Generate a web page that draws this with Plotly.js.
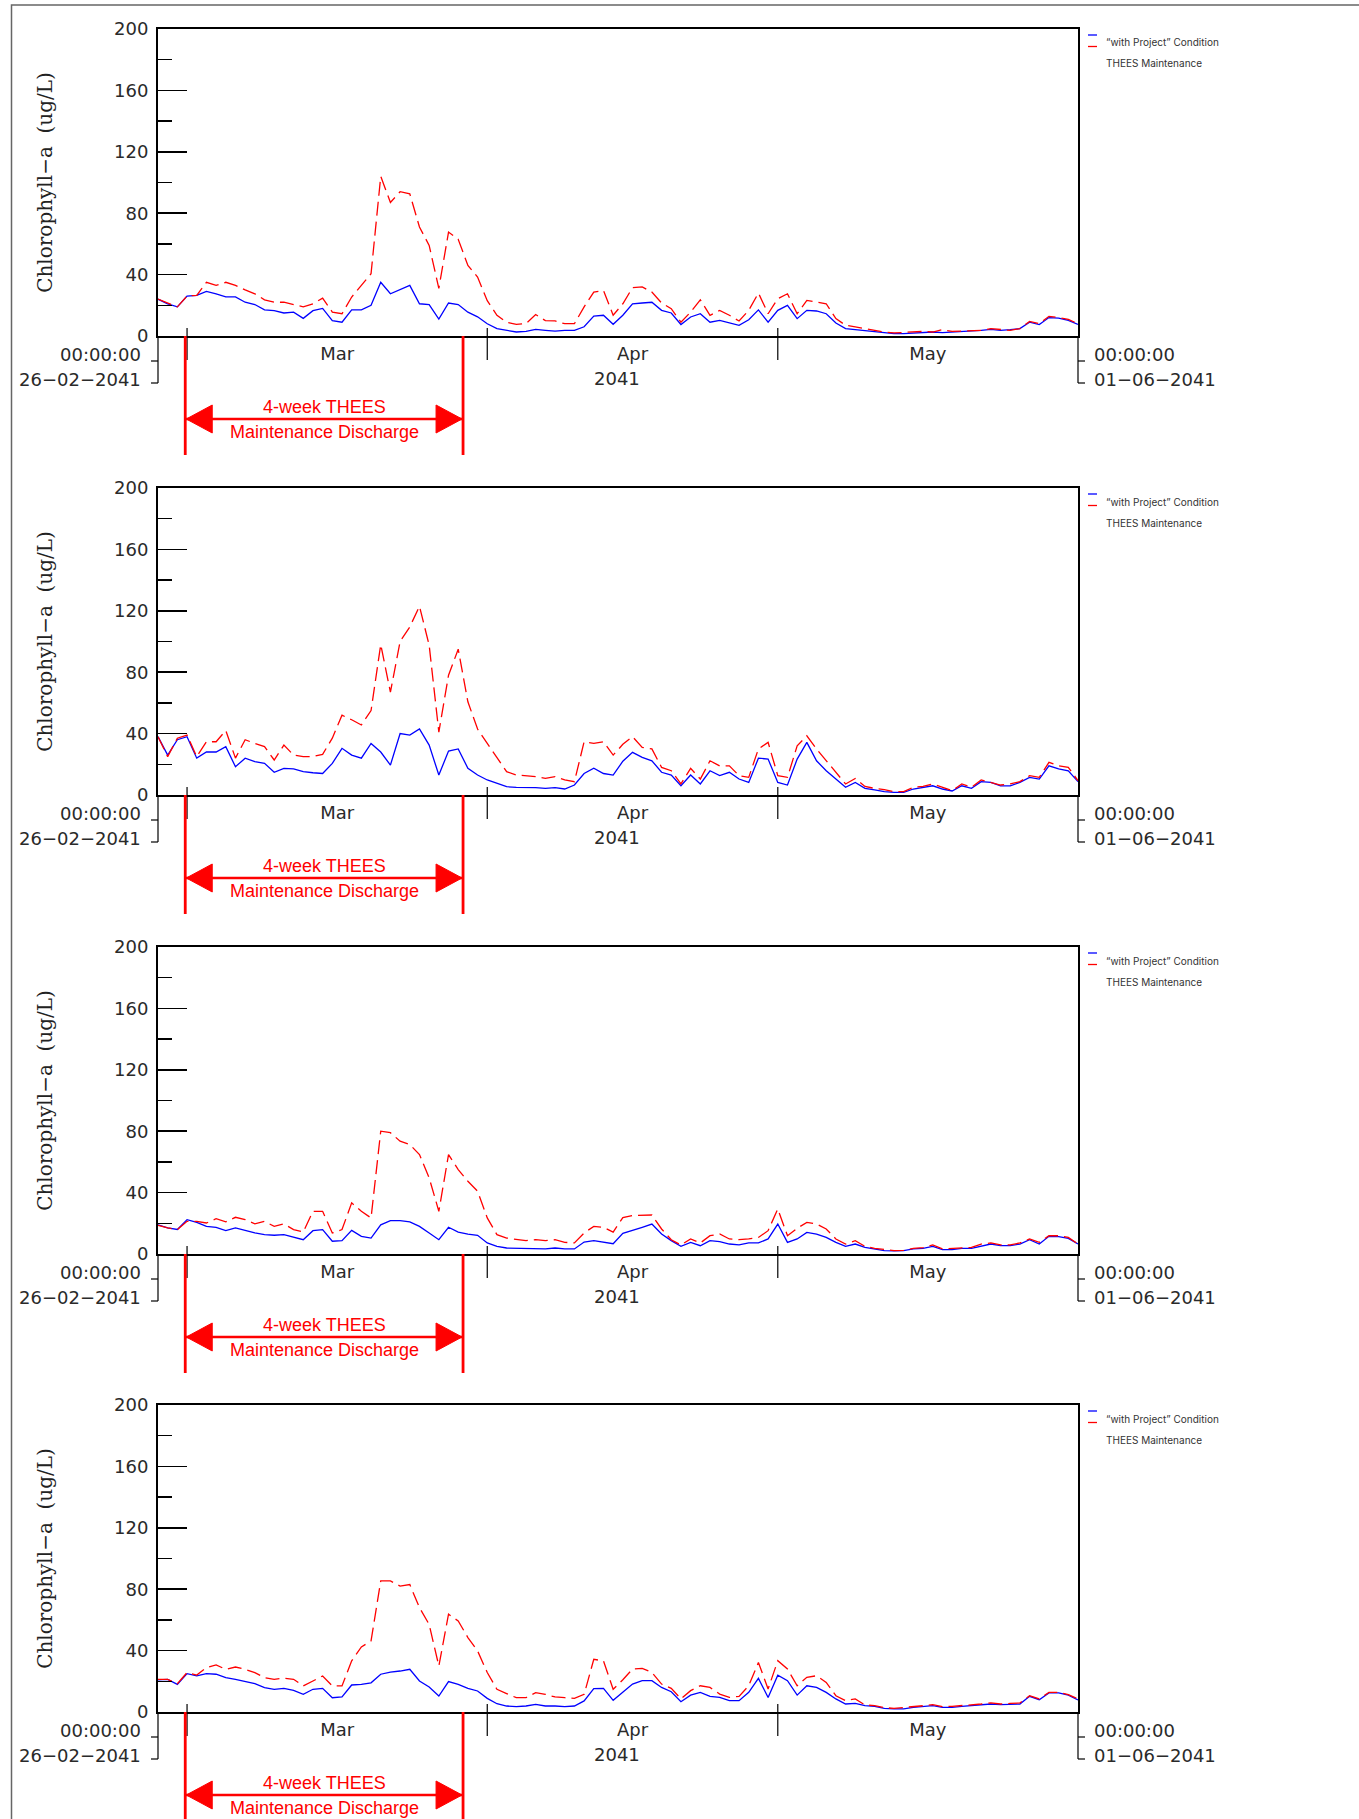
<!DOCTYPE html>
<html>
<head>
<meta charset="utf-8">
<script src="https://cdn.plot.ly/plotly-3.0.1.min.js"></script>
<style>
  html, body { margin: 0; padding: 0; background: #fff; }
  #chart { width: 1359px; height: 1819px; }
</style>
</head>
<body>
<div id="chart"></div>
<script>
// daily values, 26-02-2041 .. 01-06-2041
const P1_BASE = [24,21,19,26,26.5,29,27.5,25.5,25.5,22,20.5,17,16.5,15,15.5,11.5,16.5,18,10,9,17,17,20,35,27.5,30,33,21,20.5,11,21.5,20.5,15.5,12.5,8,4.8,3.7,2.6,3,4.3,3.7,3.2,3.7,3.7,6,13,13.5,7.6,13.5,21,21.5,22,16.7,15,7.5,12.4,14.5,9,10.2,8.5,7,10.6,17,9,16.7,20,11.3,16.7,16.3,14.5,8.5,4.8,4.1,3.7,2.6,2,1.5,1.5,2,2.4,2.6,2.2,2.6,3,3,3.7,4.3,3.7,4.1,4.8,9,7.4,12,11.7,10.2,7.6];
const P1_THEES = [24,21.5,19,26,26.5,35,33,35,33,30,27.5,23.6,22,22,20.4,19,21,24.7,15.6,14.5,25.4,33,40.6,104,87,94,92.6,71,59,31,67.7,63,46,38.4,23,13.5,9,7.6,8,14,10,9.8,8,8,19,28.6,29.7,13.5,21,31.5,32,28.6,21.5,17.8,9,15.6,23.6,13.5,16.7,13.5,9.8,16.7,28,14.5,24.3,27.5,14.5,23.2,22,21,11.3,7,5.9,4.8,3.7,2.6,2,2.2,2.6,3,2.6,4.1,3,3.3,3.3,3.7,4.8,4.1,3.7,4.8,9.5,8,12.8,12,10.8,8];

const P2_BASE = [38,26,36,38,24,28,28,31.5,18.4,24,21.7,20.6,14.8,17.4,17,15.2,14.5,14,20.6,30.4,26,24,33.6,28,19.5,40,39,43,32.5,13,28.6,30,17.4,13,9.8,7.6,5.4,5,5,4.8,4.3,4.8,3.9,6.5,14,17.4,14,13,22,27.8,24.5,22.3,14.8,13,6,13,7.2,15.8,12.6,14.8,10.4,8.2,24,23.4,8.2,6.5,23.4,34.3,22.3,15.8,10.4,5,8.2,4.3,3.3,2.2,1.7,1.7,3.9,5,6,3.9,2.6,6,4.3,8.7,8.2,6,6,8.2,11.5,10.4,19,17,15.8,8.7];
const P2_THEES = [38,25,37,39,25,34.7,34.7,42,24,36,33.6,31.5,22.8,32.5,26,25,25,26.5,37,52,49,45.6,55,98,67,100,109.5,123,97.6,41,78,95,60.7,43,33.6,24,15.2,13,12.4,12,10.8,12,9.8,8.7,34.7,33.6,34.7,26,33,38,31,30,18,15.8,7.2,17.4,10.4,22.3,19,19,12.6,11.5,30,34.3,12.6,11.5,32,38.6,30,22.3,14.8,7.2,10.8,5.6,4.3,3.5,2.2,2.2,5,5.6,7.2,5,2.8,7.2,5,9.8,8.2,6.5,7.2,8.7,12.6,11.5,21.3,19,18,9.3];

const P3_BASE = [19,17,16,22.4,20.6,18,17.4,15.2,17,15.2,13.7,12.6,12.2,12.6,10.9,9.3,15.2,15.9,8.3,8.7,15.4,11.5,10.4,19,21.7,21.7,20.9,18,13.7,9.3,17.4,14.3,13,12.2,7.2,5,3.9,3.7,3.7,3.5,3.3,3.9,3.3,3.3,7.8,8.7,7.8,6.7,13.5,15.2,17.4,19.5,13,8.7,5,7.6,5.4,8.7,8,6.5,6,7.2,7.2,9.8,19.5,7.6,9.8,14.1,13,10.8,7.6,5,6.5,4.3,3.3,2.2,2,2.2,3.3,3.7,5,2.8,2.8,3.7,3.7,5,6.5,5.4,5.4,6.5,9.3,6.5,11.5,11.3,10.2,6.5];
const P3_THEES = [18.7,17,15.9,21.3,21.3,20.2,23,20.9,23.9,22.4,19.6,21.3,18,19.6,15.9,14.3,27.8,27.8,13.7,15.9,33.3,27.8,23.5,80,79,73.5,71.3,64.8,49.6,27.8,64.8,55,47.4,40.9,23.5,12.6,10.4,9.3,8.7,9.3,8.7,9.3,7.6,7.2,13.7,18,17.4,14.3,23.7,25,25.4,25.4,16.3,9.3,5.9,9.8,7.2,11.9,13,9.8,9.3,9.8,10.8,15.2,29.3,11.9,16.7,20.6,19.5,16.3,9.8,6.5,8.7,5,3.7,2.8,2.2,2.4,3.7,4.1,5.9,3.3,3.7,4.3,4.3,6.5,7.2,5.9,5.9,7.2,9.8,7.6,11.9,11.9,10.8,6.5];

const P4_BASE = [20.9,21.3,18,25,23.5,25,24.6,22.4,21.3,19.8,18.5,15.9,14.8,15.4,14.1,11.5,14.8,15.4,9.3,9.8,17.6,18,19,24.6,26,26.7,27.8,20.2,16.3,10.4,19.8,18,15.4,13.7,8.9,5.4,3.9,3.5,3.9,5,3.9,3.9,3.5,3.9,7.2,15.2,15.4,7.6,13,18.2,20.4,20.4,16,13.2,6.7,11,12.8,10.2,9.5,7.4,7.4,12.8,21.9,9.5,24,20.4,11,17.1,16,12.8,8.5,5.2,5.6,4.1,3.7,2.4,2,2,3,3.5,4.1,3,3,3.7,4.1,4.8,5.2,4.8,5.2,5.2,10.2,8,12.4,12.4,11,7.8];
const P4_THEES = [21.3,21.3,18.5,25.7,24.1,28.9,30.7,27.8,29.3,27.8,25.7,22.4,21.3,22,21.3,17,20.2,23.5,17,17,33.3,42.4,46.3,85.4,85.4,82,83,68,57,30,63.7,59.3,48.5,39.8,25.7,14.8,12,9.3,9.3,12.6,11.5,9.8,9.3,8.9,11.5,34.3,33.3,14.8,21,28,28.4,25.8,18.2,15.4,8.5,13.9,17.1,16,11.7,9.5,10.2,17.1,32.3,15,33.4,28,17.1,22.6,23.6,19.3,10.6,7.4,8.5,4.6,4.1,2.8,2.4,2.8,3.5,4.1,4.8,3.5,3.7,4.1,4.6,5.2,5.9,5.2,5.6,5.9,10.6,8.5,12.8,12.8,11.3,8.5];

const PANELS = [
  [P1_BASE, P1_THEES],
  [P2_BASE, P2_THEES],
  [P3_BASE, P3_THEES],
  [P4_BASE, P4_THEES]
];

const SERIES_NAMES = ["\u201cwith Project\u201d Condition", "THEES Maintenance"];
const Y_TICKS = [0, 40, 80, 120, 160, 200];
const MONTH_STARTS = ["2041-03-01", "2041-04-01", "2041-05-01"];
const MONTH_LABEL_X = ["2041-03-16 12:00", "2041-04-16", "2041-05-16 12:00"];
const MONTH_LABELS = ["Mar", "Apr", "May"];
const YEAR_LABEL_X = "2041-04-14 09:00";
const X_START = "2041-02-26";
const X_END = "2041-06-01";
const DISCHARGE_START = "2041-02-28 19:30";
const DISCHARGE_END = "2041-03-29 12:00";

const START_MS = Date.UTC(2041, 1, 26);
const DAY_MS = 86400000;
function fmt(ms) { return new Date(ms).toISOString().slice(0, 19).replace("T", " "); }
const dates = P1_BASE.map((_, i) => fmt(START_MS + i * DAY_MS));
const dischargeMid = fmt((Date.parse(DISCHARGE_START.replace(" ", "T") + "Z") +
  Date.parse(DISCHARGE_END.replace(" ", "T") + "Z")) / 2);

// page geometry in px
const W = 1359, H = 1819;
const PLOT_L = 158, PLOT_R = 1078, PLOT_H = 307;
const PANEL_TOPS = [29, 488, 947, 1405];

const tickFont = { family: "DejaVu Sans", size: 18, color: "#2a2a2a" };
const redFont = { family: "Liberation Sans, Arial", size: 18, color: "#ff0000" };

let traces = [];
let layout = {
  width: W, height: H,
  margin: { l: 0, r: 0, t: 0, b: 0 },
  paper_bgcolor: "#fff", plot_bgcolor: "#fff",
  showlegend: false,
  shapes: [], annotations: []
};

// outer frame
layout.shapes.push({
  type: "rect", xref: "paper", yref: "paper",
  x0: 11.5 / W, x1: 1.02, y0: -0.02, y1: 1 - 5 / H,
  line: { color: "#666", width: 1.5 }
});

PANELS.forEach((series, k) => {
  const sfx = k === 0 ? "" : String(k + 1);
  const xr = "x" + sfx, yr = "y" + sfx;
  const top = PANEL_TOPS[k];

  traces.push({
    x: dates, y: series[0], xaxis: xr, yaxis: yr, name: SERIES_NAMES[0],
    type: "scatter", mode: "lines",
    line: { color: "#0000ff", width: 1.3 }
  });
  traces.push({
    x: dates, y: series[1], xaxis: xr, yaxis: yr, name: SERIES_NAMES[1],
    type: "scatter", mode: "lines",
    line: { color: "#ff0000", width: 1.3, dash: "14px,6px" }
  });

  layout["xaxis" + sfx] = {
    domain: [PLOT_L / W, PLOT_R / W], anchor: yr,
    type: "date", range: [X_START, X_END],
    tickmode: "array", tickvals: MONTH_LABEL_X, ticktext: MONTH_LABELS,
    ticks: "", ticklabelstandoff: 0, tickfont: tickFont,
    showline: true, mirror: true, linecolor: "#000", linewidth: 2,
    showgrid: false, zeroline: false, fixedrange: true
  };
  layout["yaxis" + sfx] = {
    domain: [1 - (top + PLOT_H) / H, 1 - top / H], anchor: xr,
    range: [0, 200], tickmode: "array", tickvals: Y_TICKS,
    ticks: "inside", ticklen: 29, tickwidth: 1.5, tickcolor: "#000",
    minor: { tickmode: "array", tickvals: [20, 60, 100, 140, 180], ticks: "inside", ticklen: 14, tickwidth: 1.5, tickcolor: "#000" },
    tickfont: tickFont, ticklabelstandoff: 4,
    showline: true, mirror: true, linecolor: "#000", linewidth: 2,
    showgrid: false, zeroline: false, fixedrange: true,
    title: { text: "Chlorophyll\u2212a  (ug/L)", font: { family: "DejaVu Serif", size: 20, color: "#222" }, standoff: 56 }
  };

  const yd = yr + " domain", xd = xr + " domain";
  const S = layout.shapes, A = layout.annotations;

  // month boundary ticks crossing the axis
  MONTH_STARTS.forEach(d => S.push({
    type: "line", xref: xr, yref: yd, x0: d, x1: d,
    ysizemode: "pixel", yanchor: 0, y0: 8, y1: -24,
    line: { color: "#000", width: 1.2 }
  }));

  // start / end brackets
  [[0, -7], [1, 7]].forEach(([xa, dx]) => {
    S.push({ type: "line", xref: xd, yref: yd, x0: xa, x1: xa,
      ysizemode: "pixel", yanchor: 0, y0: 0, y1: -47, line: { color: "#000", width: 1.2 } });
    [-25, -47].forEach(dy => S.push({ type: "line", xref: xd, yref: yd,
      xsizemode: "pixel", xanchor: xa, x0: 0, x1: dx,
      ysizemode: "pixel", yanchor: 0, y0: dy, y1: dy, line: { color: "#000", width: 1.2 } }));
  });
  A.push({ xref: xd, yref: yd, x: 0, y: 0, xanchor: "right", yanchor: "middle", xshift: -15, yshift: -18, text: "00:00:00", showarrow: false, font: tickFont });
  A.push({ xref: xd, yref: yd, x: 0, y: 0, xanchor: "right", yanchor: "middle", xshift: -15, yshift: -43, text: "26\u221202\u22122041", showarrow: false, font: tickFont });
  A.push({ xref: xd, yref: yd, x: 1, y: 0, xanchor: "left", yanchor: "middle", xshift: 14, yshift: -18, text: "00:00:00", showarrow: false, font: tickFont });
  A.push({ xref: xd, yref: yd, x: 1, y: 0, xanchor: "left", yanchor: "middle", xshift: 14, yshift: -43, text: "01\u221206\u22122041", showarrow: false, font: tickFont });
  A.push({ xref: xr, yref: yd, x: YEAR_LABEL_X, y: 0, yanchor: "middle", yshift: -42, text: "2041", showarrow: false, font: tickFont });

  // discharge window
  [DISCHARGE_START, DISCHARGE_END].forEach(d => S.push({
    type: "line", xref: xr, yref: yd, x0: d, x1: d,
    ysizemode: "pixel", yanchor: 0, y0: 0, y1: -119,
    line: { color: "#ff0000", width: 2.8 }
  }));
  S.push({ type: "line", xref: xr, yref: yd, x0: DISCHARGE_START, x1: DISCHARGE_END,
    ysizemode: "pixel", yanchor: 0, y0: -83, y1: -83, line: { color: "#ff0000", width: 2.5 } });
  S.push({ type: "path", xref: xr, yref: yd, xsizemode: "pixel", xanchor: DISCHARGE_START,
    ysizemode: "pixel", yanchor: 0, path: "M1,-83 L27,-69 L27,-97 Z",
    fillcolor: "#ff0000", line: { color: "#ff0000", width: 1 } });
  S.push({ type: "path", xref: xr, yref: yd, xsizemode: "pixel", xanchor: DISCHARGE_END,
    ysizemode: "pixel", yanchor: 0, path: "M-1,-83 L-27,-69 L-27,-97 Z",
    fillcolor: "#ff0000", line: { color: "#ff0000", width: 1 } });
  A.push({ xref: xr, yref: yd, x: dischargeMid, y: 0, yanchor: "middle", yshift: -71, text: "4-week THEES", showarrow: false, font: redFont });
  A.push({ xref: xr, yref: yd, x: dischargeMid, y: 0, yanchor: "middle", yshift: -96, text: "Maintenance Discharge", showarrow: false, font: redFont });

  // legend
  [["#0000ff", -6], ["#ff0000", -17.5]].forEach(([c, dy]) => S.push({
    type: "line", xref: xd, yref: yd, xsizemode: "pixel", xanchor: 1, x0: 10, x1: 19,
    ysizemode: "pixel", yanchor: 1, y0: dy, y1: dy, line: { color: c, width: 1.3 }
  }));
  const legFont = { family: "Inter, Roboto", size: 10, color: "#333" };
  A.push({ xref: xd, yref: yd, x: 1, y: 1, xanchor: "left", yanchor: "middle", xshift: 26, yshift: -13.5, text: SERIES_NAMES[0], showarrow: false, font: legFont });
  A.push({ xref: xd, yref: yd, x: 1, y: 1, xanchor: "left", yanchor: "middle", xshift: 26, yshift: -34.5, text: SERIES_NAMES[1], showarrow: false, font: legFont });
});

Plotly.newPlot("chart", traces, layout, { displayModeBar: false, staticPlot: true });
</script>
</body>
</html>
